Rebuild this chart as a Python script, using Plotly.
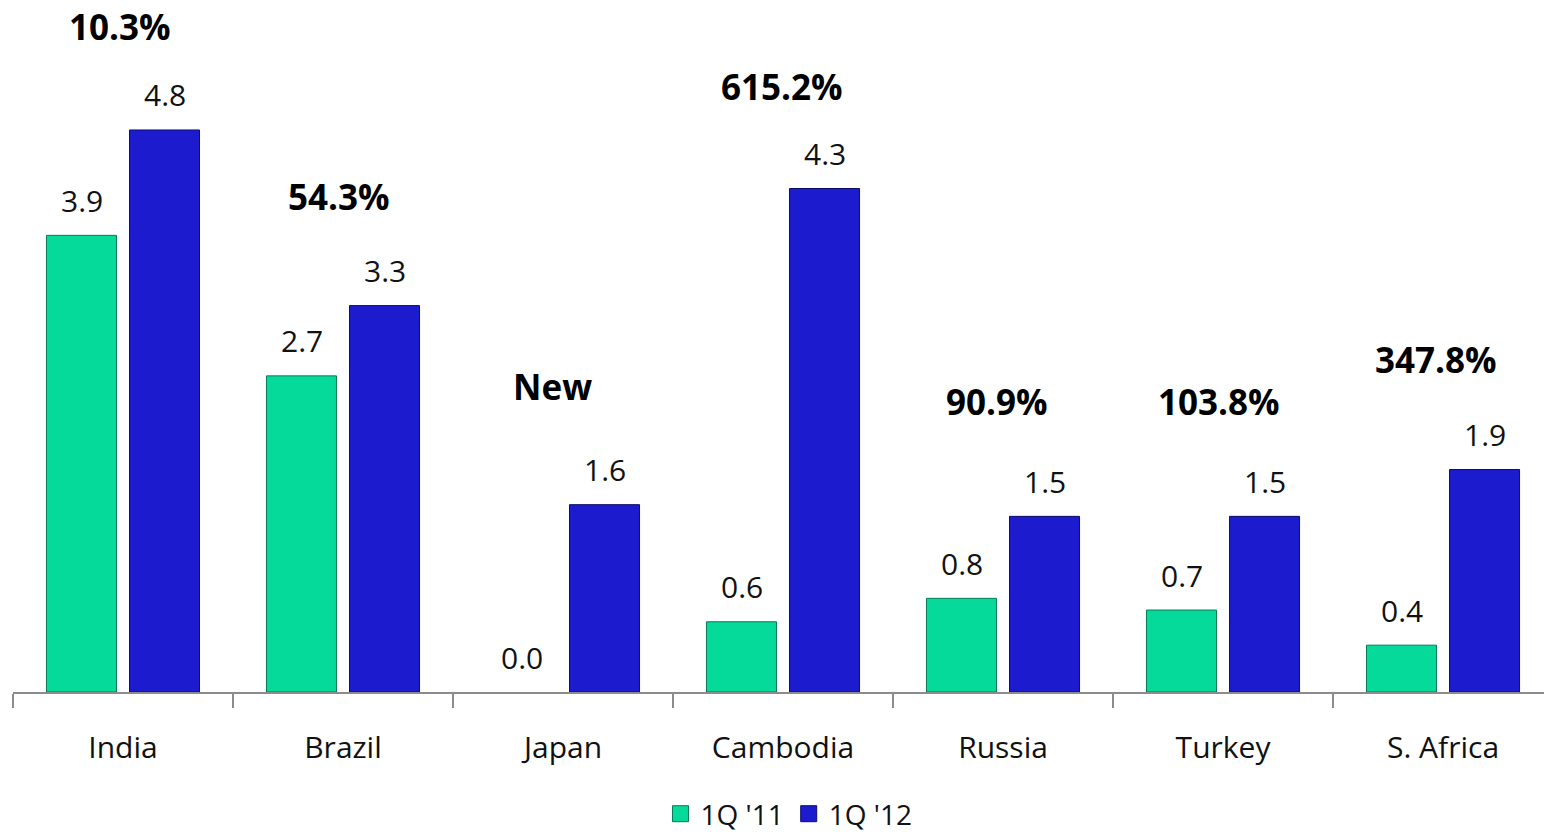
import plotly.graph_objects as go

categories = ["India", "Brazil", "Japan", "Cambodia", "Russia", "Turkey", "S. Africa"]
series_names = ["1Q '11", "1Q '12"]
values_1q11 = [3.9, 2.7, 0.0, 0.6, 0.8, 0.7, 0.4]
values_1q12 = [4.8, 3.3, 1.6, 4.3, 1.5, 1.5, 1.9]
growth_labels = ["10.3%", "54.3%", "New", "615.2%", "90.9%", "103.8%", "347.8%"]
growth_label_y = [5.68, 4.23, 2.61, 5.175, 2.48, 2.48, 2.84]
growth_label_dx = [-3, -4, -11, -1, -6, -4, -7]

FONT = "Open Sans"
GREEN = "#05DA9A"
GREEN_LINE = "#067A56"
BLUE = "#1C1CCE"
BLUE_LINE = "#0C0C6A"

fig = go.Figure()
fig.add_trace(go.Bar(x=categories, y=values_1q11, name=series_names[0], showlegend=False,
                     marker=dict(color=GREEN,
                                 line=dict(color=GREEN_LINE,
                                           width=[0 if v == 0 else 1 for v in values_1q11]))))
fig.add_trace(go.Bar(x=categories, y=values_1q12, name=series_names[1], showlegend=False,
                     marker=dict(color=BLUE,
                                 line=dict(color=BLUE_LINE,
                                           width=[0 if v == 0 else 1 for v in values_1q12]))))
# legend proxies with larger square symbols
fig.add_trace(go.Scatter(x=[None], y=[None], mode="markers", name=series_names[0],
                         marker=dict(symbol="square", size=21, color=GREEN,
                                     line=dict(color=GREEN_LINE, width=1))))
fig.add_trace(go.Scatter(x=[None], y=[None], mode="markers", name=series_names[1],
                         marker=dict(symbol="square", size=21, color=BLUE,
                                     line=dict(color=BLUE_LINE, width=1))))

annotations = []
for cat, v in zip(categories, values_1q11):
    annotations.append(dict(x=cat, y=v, xref="x", yref="y", text=f"{v:.1f}", showarrow=False,
                            xshift=-41.5, yshift=35, yanchor="middle",
                            font=dict(family=FONT, size=30, color="#111")))
for cat, v in zip(categories, values_1q12):
    annotations.append(dict(x=cat, y=v, xref="x", yref="y", text=f"{v:.1f}", showarrow=False,
                            xshift=41.5, yshift=35, yanchor="middle",
                            font=dict(family=FONT, size=30, color="#111")))
for cat, lab, gy, dx in zip(categories, growth_labels, growth_label_y, growth_label_dx):
    annotations.append(dict(x=cat, y=gy, xref="x", yref="y", text=f"<b>{lab}</b>", showarrow=False,
                            xshift=dx, yanchor="middle",
                            font=dict(family=FONT, size=35, color="#000")))

fig.update_layout(
    width=1544, height=834,
    margin=dict(l=13, r=0, t=0, b=142),
    paper_bgcolor="white", plot_bgcolor="white",
    barmode="group", bargap=0.245, bargroupgap=0.157,
    font=dict(family=FONT, size=30, color="#111"),
    showlegend=True,
    legend=dict(orientation="h", x=0.511, xanchor="center", xref="container",
                y=1 - 814 / 834, yanchor="middle", yref="container",
                font=dict(family=FONT, size=28, color="#111"), traceorder="normal",
                itemwidth=30, tracegroupgap=0),
    annotations=annotations,
)
fig.update_xaxes(type="category", range=[-0.5, 6.459], showline=True, linecolor="#8C8C8C",
                 linewidth=2, ticks="outside", tickson="boundaries", ticklen=14,
                 tickcolor="#8C8C8C", tickwidth=2, showgrid=False, zeroline=False,
                 ticklabelstandoff=28, automargin=False,
                 tickfont=dict(family=FONT, size=30, color="#111"))
fig.update_yaxes(range=[0, 5.91], visible=False, showgrid=False, zeroline=False, automargin=False)

fig.write_html("out.html", config={"displayModeBar": False},
               post_script="document.body.style.margin='0';")
